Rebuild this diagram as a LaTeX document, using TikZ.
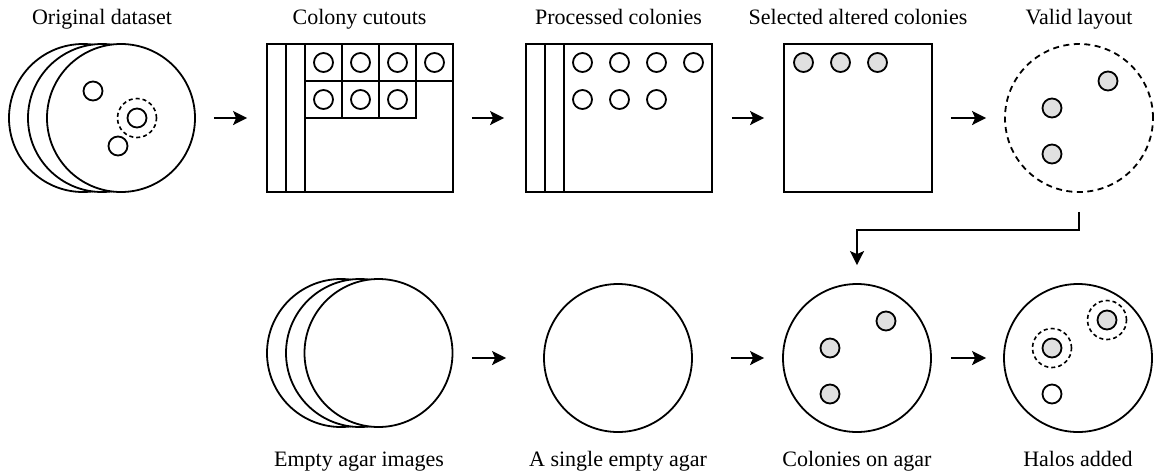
\documentclass[tikz,border=0pt]{standalone}
\usepackage{fontspec}
\setmainfont{Liberation Serif}
\usetikzlibrary{arrows.meta, positioning}
\tikzset{>={Stealth[length=14pt,width=14pt,inset=3pt]}}
\tikzset{
  plate/.style={circle, draw, line width=1.8pt, fill=white, minimum size=148pt, inner sep=0pt},
  colony/.style={circle, draw, line width=1.8pt, fill=white, minimum size=19pt, inner sep=0pt},
  altered/.style={colony, fill=black!12},
  halo/.style={circle, draw, line width=1.6pt, dash pattern=on 4pt off 3pt, minimum size=39pt, inner sep=0pt},
  tray/.style={rectangle, draw, line width=1.8pt, fill=white, inner sep=0pt, minimum height=148pt},
  cell/.style={rectangle, draw, line width=1.8pt, minimum size=37pt, inner sep=0pt},
  title/.style={anchor=base, font=\fontsize{22}{26}\selectfont},
  flow/.style={->, line width=1.9pt}
}

\begin{document}
\begin{tikzpicture}[x=1pt, y=-1pt]
\useasboundingbox (0,0) rectangle (1158,472);

% top row
\node[plate] (orig3) at (83,118) {};
\node[plate] (orig2) at (102,118) {};
\node[plate] (orig) at (121,118) {};
\node[colony] (o1) at (93,91) {};
\node[halo] (oh) at (137,118) {};
\node[colony] (o2) at (137,118) {};
\node[colony] (o3) at (118,146) {};
\node[title] (t1) at (102,24) {Original dataset};

\node[tray, minimum width=186pt] (cut) at (360,118) {};
\draw[line width=1.8pt] (286,44) -- (286,192) (305,44) -- (305,192);
\foreach \i in {0,...,3}
  \node[cell] (ca\i) at (323.5+37*\i,62.5) {} node[colony] at (ca\i) {};
\foreach \i in {0,1,2}
  \node[cell] (cb\i) at (323.5+37*\i,99.5) {} node[colony] at (cb\i) {};
\node[title] (t2) at (359.5,24) {Colony cutouts};

\node[tray, minimum width=186pt] (proc) at (619,118) {};
\draw[line width=1.8pt] (545,44) -- (545,192) (564,44) -- (564,192);
\foreach \i in {0,...,3}
  \node[colony] (pa\i) at (582.5+37*\i,62.5) {};
\foreach \i in {0,1,2}
  \node[colony] (pb\i) at (582.5+37*\i,99.5) {};
\node[title] (t3) at (618.5,24) {Processed colonies};

\node[tray, minimum width=148pt] (sel) at (858,118) {};
\foreach \i in {0,1,2}
  \node[altered] (s\i) at (803.5+37*\i,62.5) {};
\node[title] (t4) at (858,24) {Selected altered colonies};

\node[plate, dash pattern=on 6pt off 4.5pt] (valid) at (1079,118) {};
\node[altered] (v1) at (1108,81) {};
\node[altered] (v2) at (1052,108) {};
\node[altered] (v3) at (1052,154) {};
\node[title] (t5) at (1079,24) {Valid layout};

% bottom row
\node[plate] (empty3) at (341,353) {};
\node[plate] (empty2) at (360,353) {};
\node[plate] (empty) at (378.5,353) {};
\node[title] (b1) at (359,466) {Empty agar images};

\node[plate] (single) at (618,358) {};
\node[title] (b2) at (618,466) {A single empty agar};

\node[plate] (agar) at (857,358) {};
\node[altered] (a1) at (886,321) {};
\node[altered] (a2) at (830,348) {};
\node[altered] (a3) at (830,394) {};
\node[title] (b3) at (857,466) {Colonies on agar};

\node[plate] (halos) at (1078,358) {};
\node[halo] (h1) at (1107,320) {};
\node[altered] (g1) at (1107,320) {};
\node[halo] (h2) at (1052,348) {};
\node[altered] (g2) at (1052,348) {};
\node[colony] (g3) at (1052,394) {};
\node[title] (b4) at (1078,466) {Halos added};

% arrows
\draw[flow, shorten <=18pt, shorten >=19pt] (orig) -- (cut);
\draw[flow, shorten <=18pt, shorten >=21pt] (cut) -- (proc);
\draw[flow, shorten <=19pt, shorten >=19pt] (proc) -- (sel);
\draw[flow, shorten <=18pt, shorten >=18pt] (sel) -- (valid);
\draw[flow, shorten <=19pt, shorten >=18pt] (valid.south) -- ++(0,37) -| (agar.north);
\draw[flow, shorten <=19pt, shorten >=37pt] (empty.east |- single.west) -- (single.west);
\draw[flow, shorten <=38pt, shorten >=18pt] (single) -- (agar);
\draw[flow, shorten <=19pt, shorten >=17pt] (agar) -- (halos);
\end{tikzpicture}
\end{document}
